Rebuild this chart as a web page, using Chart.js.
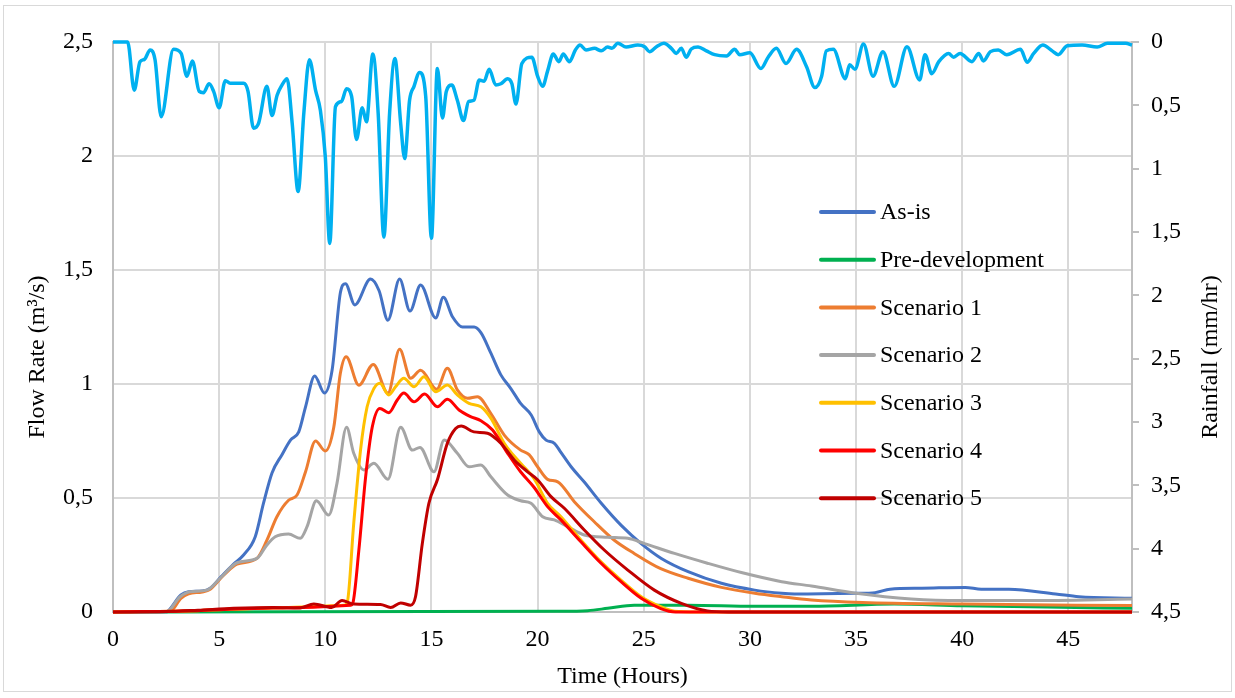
<!DOCTYPE html>
<html>
<head>
<meta charset="utf-8">
<script src="https://cdn.jsdelivr.net/npm/chart.js@4.4.1/dist/chart.umd.min.js"></script>
<style>
  html, body { margin: 0; padding: 0; background: #fff; }
  #wrap { width: 1235px; height: 698px; position: relative; }
  canvas { display: block; }
</style>
</head>
<body>
<div id="wrap"><canvas id="chart" width="1235" height="698"></canvas></div>
<script>
// Hydrograph: flow rate per scenario (left axis) and rainfall hyetograph (right axis, inverted)
// Each series: [time in hours, value]

const seriesNames = ['As-is', 'Pre-development', 'Scenario 1', 'Scenario 2', 'Scenario 3', 'Scenario 4', 'Scenario 5'];
const seriesColors = ['#4472C4', '#00B050', '#ED7D31', '#A5A5A5', '#FFC000', '#FF0000', '#C00000'];
const rainColor = '#00B0F0';

const timeTicks = [0, 5, 10, 15, 20, 25, 30, 35, 40, 45];
const flowTicks = [0, 0.5, 1, 1.5, 2, 2.5];
const rainTicks = [0, 0.5, 1, 1.5, 2, 2.5, 3, 3.5, 4, 4.5];

const asIsFlow = [
  [0, 0], [2.5, 0], [2.6, 0.005], [3.2, 0.075], [3.56, 0.089], [4.2, 0.092], [4.58, 0.104], [5.1, 0.155],
  [5.68, 0.21], [6.15, 0.25], [6.7, 0.33], [7.09, 0.477], [7.49, 0.61], [7.96, 0.69], [8.36, 0.754],
  [8.75, 0.79], [9.07, 0.9], [9.5, 1.035], [9.96, 0.96], [10.32, 1.06], [10.71, 1.4], [10.95, 1.44],
  [11.39, 1.347], [12.13, 1.46], [12.53, 1.41], [12.95, 1.28], [13.5, 1.46], [13.99, 1.32], [14.49, 1.434],
  [15.2, 1.29], [15.56, 1.38], [15.99, 1.295], [16.46, 1.25], [17.01, 1.25], [17.33, 1.225], [17.8, 1.135],
  [18.27, 1.04], [18.74, 0.98], [19.2, 0.915], [19.7, 0.864], [20.08, 0.79], [20.4, 0.754], [20.79, 0.74],
  [21.1, 0.7], [21.58, 0.637], [22.2, 0.57], [23.0, 0.477], [23.94, 0.38], [24.88, 0.3], [25.83, 0.235],
  [27.09, 0.177], [28.66, 0.126], [30.23, 0.096], [31.5, 0.082], [32.1, 0.079], [35.0, 0.082], [35.9, 0.085],
  [36.6, 0.1], [38.1, 0.104], [40.15, 0.108], [40.9, 0.1], [42.2, 0.1], [44.4, 0.079], [45.5, 0.067], [48, 0.06]
];

const preDevFlow = [
  [0, 0], [21, 0.003], [22.36, 0.006], [23.3, 0.016], [24.55, 0.03], [25.5, 0.03], [27.1, 0.03],
  [30.2, 0.025], [32.9, 0.025], [36.8, 0.035], [40, 0.027], [44, 0.022], [48, 0.016]
];

const scenario1Flow = [
  [0, 0], [2.7, 0.003], [3.2, 0.06], [3.56, 0.08], [4.2, 0.088], [4.58, 0.1], [5.2, 0.16], [5.84, 0.21],
  [6.78, 0.235], [7.25, 0.315], [7.72, 0.418], [8.27, 0.49], [8.67, 0.513], [9.07, 0.615], [9.54, 0.75],
  [10.0, 0.706], [10.4, 0.81], [10.71, 1.047], [10.98, 1.12], [11.58, 0.995], [12.26, 1.086], [12.95, 0.96],
  [13.5, 1.152], [14.02, 1.025], [14.49, 1.06], [15.25, 0.977], [15.75, 1.069], [16.22, 0.974], [16.7, 0.937],
  [17.17, 0.944], [17.8, 0.87], [18.43, 0.776], [19.2, 0.71], [19.6, 0.69], [20.0, 0.637], [20.47, 0.582],
  [20.95, 0.571], [21.73, 0.484], [22.67, 0.396], [23.6, 0.316], [24.55, 0.257], [25.8, 0.19], [27.09, 0.148],
  [28.66, 0.108], [30.23, 0.082], [31.5, 0.067], [32.9, 0.053], [35.3, 0.042], [40, 0.035], [48, 0.028]
];

const scenario2Flow = [
  [0, 0], [2.5, 0], [3.16, 0.067], [3.63, 0.089], [4.42, 0.096], [5.05, 0.148], [5.84, 0.216], [6.78, 0.235],
  [7.25, 0.294], [7.64, 0.33], [8.27, 0.342], [8.82, 0.323], [9.14, 0.374], [9.58, 0.488], [10.16, 0.425],
  [10.55, 0.564], [11.0, 0.81], [11.34, 0.696], [11.82, 0.623], [12.29, 0.652], [12.95, 0.582], [13.55, 0.81],
  [14.1, 0.71], [14.46, 0.722], [15.12, 0.615], [15.6, 0.754], [16.22, 0.696], [16.77, 0.637], [17.33, 0.645],
  [17.8, 0.593], [18.59, 0.513], [19.2, 0.488], [19.69, 0.477], [20.24, 0.418], [20.79, 0.404], [21.42, 0.374],
  [22.2, 0.338], [23.3, 0.328], [24.25, 0.323], [25.04, 0.3], [26.45, 0.257], [28.0, 0.214], [29.6, 0.173],
  [31.5, 0.133], [32.9, 0.114], [35.0, 0.082], [37.6, 0.057], [40.0, 0.05], [43.1, 0.05], [48, 0.057]
];

const scenario3Flow = [
  [0, 0], [4, 0.006], [7.5, 0.018], [10.9, 0.03], [11.03, 0.04], [11.34, 0.389], [11.66, 0.71], [11.97, 0.9],
  [12.29, 0.98], [12.57, 1.003], [12.99, 0.952], [13.31, 0.988], [13.7, 1.025], [14.18, 0.988], [14.65, 1.032],
  [15.2, 0.966], [15.75, 0.996], [16.22, 0.952], [16.77, 0.915], [17.33, 0.9], [17.8, 0.85], [18.43, 0.74],
  [19.2, 0.652], [19.83, 0.586], [20.47, 0.477], [21.1, 0.418], [22.04, 0.316], [22.99, 0.22], [23.93, 0.14],
  [24.88, 0.067], [25.8, 0.023], [26.45, 0.003], [27.5, 0], [48, 0]
];

const scenario4Flow = [
  [0, 0], [4, 0.006], [7.5, 0.018], [11.2, 0.03], [11.3, 0.04], [11.58, 0.27], [11.9, 0.593], [12.21, 0.81],
  [12.57, 0.893], [12.99, 0.874], [13.39, 0.93], [13.7, 0.96], [14.18, 0.922], [14.68, 0.956], [15.28, 0.9],
  [15.75, 0.933], [16.3, 0.886], [16.84, 0.857], [17.33, 0.839], [17.88, 0.798], [18.59, 0.696], [19.2, 0.615],
  [19.83, 0.547], [20.47, 0.462], [21.1, 0.404], [22.04, 0.308], [22.99, 0.214], [23.93, 0.133], [24.88, 0.06],
  [25.8, 0.015], [26.5, 0], [48, 0]
];

const scenario5Flow = [
  [0, 0], [2.5, 0.002], [4, 0.008], [5.68, 0.016], [7.56, 0.02], [8.82, 0.018], [9.46, 0.035], [10.3, 0.02],
  [10.79, 0.05], [11.34, 0.035], [12.6, 0.033], [13.08, 0.02], [13.55, 0.04], [14.02, 0.03], [14.25, 0.067],
  [14.57, 0.3], [14.88, 0.477], [15.28, 0.58], [15.75, 0.74], [16.14, 0.805], [16.4, 0.816], [17.0, 0.79],
  [17.64, 0.784], [18.27, 0.74], [18.9, 0.667], [19.53, 0.615], [20.0, 0.58], [20.63, 0.506], [21.26, 0.455],
  [22.2, 0.36], [23.14, 0.272], [24.25, 0.184], [25.5, 0.096], [26.77, 0.038], [28.0, 0.005], [29, 0], [48, 0]
];

const rainfall = [
  [0, 0], [0.69, 0], [1.0, 0.38], [1.27, 0.155], [1.48, 0.137], [1.75, 0.063], [1.98, 0.14], [2.27, 0.59],
  [2.85, 0.058], [3.21, 0.09], [3.48, 0.27], [3.74, 0.15], [4.06, 0.39], [4.26, 0.4], [4.53, 0.33], [4.74, 0.39],
  [5.0, 0.52], [5.29, 0.305], [5.52, 0.326], [6.15, 0.326], [6.36, 0.39], [6.62, 0.68], [6.86, 0.64], [7.25, 0.35],
  [7.49, 0.58], [7.73, 0.42], [7.96, 0.34], [8.2, 0.29], [8.44, 0.64], [8.72, 1.18], [8.99, 0.56], [9.25, 0.14],
  [9.54, 0.38], [9.77, 0.54], [10.0, 0.905], [10.21, 1.59], [10.48, 0.51], [10.76, 0.47], [11.0, 0.37],
  [11.24, 0.43], [11.47, 0.77], [11.74, 0.52], [11.94, 0.63], [12.24, 0.095], [12.49, 0.56], [12.76, 1.54],
  [13.03, 0.56], [13.28, 0.13], [13.55, 0.64], [13.74, 0.92], [13.97, 0.46], [14.18, 0.35], [14.44, 0.24],
  [14.73, 0.43], [15.0, 1.55], [15.28, 0.21], [15.52, 0.6], [15.7, 0.39], [15.96, 0.34], [16.22, 0.46],
  [16.51, 0.62], [16.75, 0.47], [17.0, 0.46], [17.25, 0.3], [17.48, 0.31], [17.72, 0.215], [18.03, 0.34],
  [18.27, 0.33], [18.59, 0.29], [18.79, 0.33], [18.98, 0.49], [19.26, 0.17], [19.73, 0.12], [20.0, 0.27],
  [20.24, 0.35], [20.47, 0.23], [20.74, 0.095], [21.0, 0.155], [21.21, 0.095], [21.5, 0.155], [21.78, 0.063],
  [22.0, 0.024], [22.28, 0.063], [22.68, 0.05], [23.0, 0.07], [23.3, 0.04], [23.5, 0.05], [23.78, 0.01],
  [24.17, 0.04], [24.72, 0.024], [25.04, 0.037], [25.27, 0.076], [25.6, 0.037], [25.95, 0.01], [26.3, 0.05],
  [26.53, 0.09], [26.77, 0.05], [27.0, 0.12], [27.24, 0.055], [27.56, 0.04], [27.95, 0.07], [28.34, 0.1],
  [28.9, 0.11], [29.28, 0.058], [29.52, 0.1], [30.0, 0.085], [30.52, 0.21], [30.86, 0.12], [31.25, 0.05],
  [31.7, 0.17], [32.2, 0.058], [32.67, 0.195], [33.06, 0.36], [33.38, 0.27], [33.6, 0.07], [33.93, 0.058],
  [34.5, 0.29], [34.7, 0.18], [34.95, 0.215], [35.35, 0.016], [35.8, 0.27], [36.27, 0.076], [36.8, 0.35],
  [37.4, 0.037], [38.0, 0.3], [38.25, 0.1], [38.57, 0.25], [38.9, 0.155], [39.36, 0.09], [39.6, 0.12],
  [39.9, 0.09], [40.46, 0.155], [40.78, 0.09], [41.0, 0.15], [41.33, 0.076], [41.7, 0.063], [42.1, 0.1],
  [42.75, 0.058], [43.06, 0.16], [43.37, 0.09], [43.8, 0.024], [44.24, 0.07], [44.52, 0.1], [44.95, 0.03],
  [45.65, 0.024], [46.36, 0.04], [46.84, 0.01], [47.7, 0.01], [48, 0.024]
];

const flowSeries = [asIsFlow, preDevFlow, scenario1Flow, scenario2Flow, scenario3Flow, scenario4Flow, scenario5Flow];

const toPoints = arr => arr.map(([x, y]) => ({ x, y }));
const commaDecimal = v => String(v).replace('.', ',');
const FONT = '"Liberation Serif", "Times New Roman", serif';

const datasets = flowSeries.map((arr, i) => ({
  label: seriesNames[i],
  data: toPoints(arr),
  borderColor: seriesColors[i],
  backgroundColor: seriesColors[i],
  borderWidth: 3,
  pointRadius: 0,
  tension: 0.4,
  cubicInterpolationMode: 'monotone',
  yAxisID: 'y',
  clip: 6,
  order: seriesNames.length - i
}));

datasets.push({
  label: 'Rainfall',
  data: toPoints(rainfall),
  borderColor: rainColor,
  backgroundColor: rainColor,
  borderWidth: 3.5,
  pointRadius: 0,
  tension: 0.4,
  cubicInterpolationMode: 'monotone',
  yAxisID: 'y2',
  clip: 6,
  order: 0,
  inLegend: false
});

// Outer frame around the whole chart
const frame = {
  id: 'frame',
  beforeDraw(chart) {
    const ctx = chart.ctx;
    ctx.save();
    ctx.strokeStyle = '#d9d9d9';
    ctx.lineWidth = 1;
    ctx.strokeRect(3.5, 5.5, chart.width - 7, chart.height - 12);
    ctx.restore();
  }
};

// Vertical axis titles, both reading bottom-to-top
const sideTitles = {
  id: 'sideTitles',
  afterDraw(chart, args, opts) {
    const ctx = chart.ctx;
    ctx.save();
    ctx.font = opts.fontSize + 'px ' + FONT;
    ctx.fillStyle = '#000';
    ctx.textAlign = 'center';
    ctx.textBaseline = 'middle';
    opts.items.forEach(t => {
      ctx.save();
      ctx.translate(t.x, t.y);
      ctx.rotate(-Math.PI / 2);
      ctx.fillText(t.text, 0, 0);
      ctx.restore();
    });
    ctx.restore();
  }
};

// Legend drawn inside the plot area, one entry per row
const insideLegend = {
  id: 'insideLegend',
  afterDatasetsDraw(chart, args, opts) {
    const { ctx, chartArea } = chart;
    ctx.save();
    ctx.font = opts.fontSize + 'px ' + FONT;
    ctx.textBaseline = 'middle';
    ctx.textAlign = 'left';
    let row = 0;
    chart.data.datasets.forEach(ds => {
      if (ds.inLegend === false) return;
      const y = chartArea.top + opts.top + row * opts.rowGap;
      const x = chartArea.left + opts.left;
      ctx.strokeStyle = ds.borderColor;
      ctx.lineWidth = 4;
      ctx.lineCap = 'round';
      ctx.beginPath();
      ctx.moveTo(x, y);
      ctx.lineTo(x + opts.sample, y);
      ctx.stroke();
      ctx.fillStyle = '#000';
      ctx.fillText(ds.label, x + opts.sample + opts.gap, y + 1);
      row++;
    });
    ctx.restore();
  }
};

const tickFont = { family: FONT, size: 24 };
const titleFont = { family: FONT, size: 24 };

new Chart(document.getElementById('chart'), {
  type: 'line',
  data: { datasets },
  plugins: [frame, insideLegend, sideTitles],
  options: {
    responsive: false,
    animation: false,
    devicePixelRatio: 1,
    layout: { padding: { top: 42, left: 0, right: 0, bottom: 0 } },
    plugins: {
      legend: { display: false },
      tooltip: { enabled: false },
      insideLegend: { left: 708, top: 170, rowGap: 47.7, sample: 53, gap: 6, fontSize: 24 },
      sideTitles: {
        fontSize: 24,
        items: [
          { text: 'Flow Rate (m³/s)', x: 38, y: 357 },
          { text: 'Rainfall (mm/hr)', x: 1211, y: 357 }
        ]
      }
    },
    scales: {
      x: {
        type: 'linear',
        min: 0,
        max: 48,
        afterFit: s => { s.height = 86; },
        afterBuildTicks: s => { s.ticks = timeTicks.map(v => ({ value: v })); },
        ticks: { font: tickFont, color: '#000', padding: 13, maxRotation: 0, callback: v => commaDecimal(v) },
        grid: { color: '#d9d9d9', lineWidth: 2, drawTicks: false },
        border: { color: '#bfbfbf', width: 2 },
        title: { display: true, text: 'Time (Hours)', font: titleFont, color: '#000', padding: { top: 0, bottom: 7 } }
      },
      y: {
        position: 'left',
        min: 0,
        max: 2.5,
        afterFit: s => { s.width = 113; },
        afterBuildTicks: s => { s.ticks = flowTicks.map(v => ({ value: v })); },
        ticks: { font: tickFont, color: '#000', padding: 20, callback: v => commaDecimal(v) },
        grid: { color: '#d9d9d9', lineWidth: 2, drawTicks: false },
        border: { color: '#bfbfbf', width: 2 }
      },
      y2: {
        position: 'right',
        reverse: true,
        min: 0,
        max: 4.5,
        afterFit: s => { s.width = 103; },
        afterBuildTicks: s => { s.ticks = rainTicks.map(v => ({ value: v })); },
        ticks: { font: tickFont, color: '#000', padding: 12, callback: v => commaDecimal(v) },
        grid: { drawOnChartArea: false, drawTicks: true, tickLength: 7, color: '#bfbfbf', lineWidth: 2 },
        border: { color: '#bfbfbf', width: 2 }
      }
    }
  }
});
</script>
</body>
</html>
